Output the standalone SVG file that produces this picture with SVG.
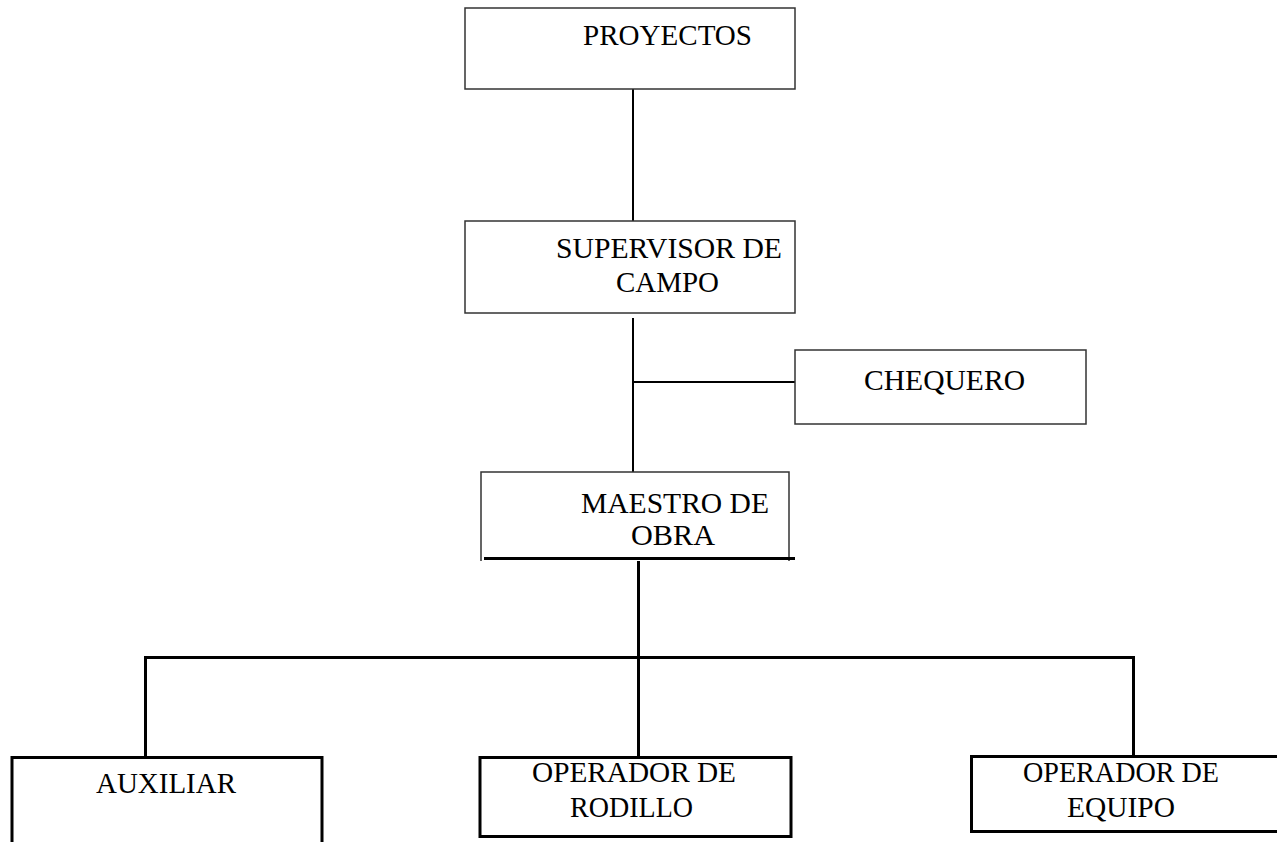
<svg xmlns="http://www.w3.org/2000/svg" width="1277" height="842" viewBox="0 0 1277 842">
  <style>
    .box { fill: #ffffff; stroke: #333333; stroke-width: 1.5; }
    .heavy { fill: none; stroke: #000000; stroke-width: 3; }
    .thin { fill: none; stroke: #000000; stroke-width: 2; }
    .label { font-family: "Liberation Serif", "Times New Roman", serif; font-size: 29px; fill: #000000; }
  </style>
  <rect width="1277" height="842" fill="#ffffff"/>

  <!-- connectors -->
  <g id="connectors">
    <line class="thin" x1="633" y1="89" x2="633" y2="221"/>
    <line class="thin" x1="633" y1="318" x2="633" y2="472"/>
    <line class="thin" x1="632" y1="382" x2="795" y2="382"/>
    <line class="heavy" x1="638.5" y1="558" x2="638.5" y2="756"/>
    <line class="heavy" x1="145.5" y1="657.5" x2="1133.5" y2="657.5"/>
    <line class="heavy" x1="145.5" y1="656" x2="145.5" y2="756"/>
    <line class="heavy" x1="1133.5" y1="656" x2="1133.5" y2="756"/>
  </g>

  <!-- top level -->
  <g id="node-proyectos">
    <rect class="box" x="465" y="8" width="330" height="81"/>
    <text class="label" x="583" y="45" textLength="169" lengthAdjust="spacingAndGlyphs">PROYECTOS</text>
  </g>

  <g id="node-supervisor">
    <rect class="box" x="465" y="221" width="330" height="92"/>
    <text class="label" x="556" y="258" textLength="226" lengthAdjust="spacingAndGlyphs">SUPERVISOR DE</text>
    <text class="label" x="616" y="292" textLength="103" lengthAdjust="spacingAndGlyphs">CAMPO</text>
  </g>

  <g id="node-chequero">
    <rect class="box" x="795" y="350" width="291" height="74"/>
    <text class="label" x="864" y="390" textLength="161" lengthAdjust="spacingAndGlyphs">CHEQUERO</text>
  </g>

  <!-- site foreman: open box with a heavy base line -->
  <g id="node-maestro">
    <path class="box" fill="none" d="M481,561 V472 H789 V561"/>
    <line class="heavy" x1="484" y1="558.5" x2="795" y2="558.5"/>
    <text class="label" x="581" y="513" textLength="188" lengthAdjust="spacingAndGlyphs">MAESTRO DE</text>
    <text class="label" x="631" y="545" textLength="84" lengthAdjust="spacingAndGlyphs">OBRA</text>
  </g>

  <!-- bottom row -->
  <g id="node-auxiliar">
    <path class="heavy" d="M12,845 V757.5 H322 V845"/>
    <text class="label" x="96" y="793" textLength="140" lengthAdjust="spacingAndGlyphs">AUXILIAR</text>
  </g>

  <g id="node-rodillo">
    <rect class="heavy" x="480" y="757.5" width="311" height="79"/>
    <text class="label" x="532" y="782" textLength="204" lengthAdjust="spacingAndGlyphs">OPERADOR DE</text>
    <text class="label" x="570" y="817" textLength="123" lengthAdjust="spacingAndGlyphs">RODILLO</text>
  </g>

  <g id="node-equipo">
    <path class="heavy" d="M1280,756.5 H971.5 V831.5 H1280"/>
    <text class="label" x="1023" y="782" textLength="196" lengthAdjust="spacingAndGlyphs">OPERADOR DE</text>
    <text class="label" x="1067" y="817" textLength="108" lengthAdjust="spacingAndGlyphs">EQUIPO</text>
  </g>
</svg>
